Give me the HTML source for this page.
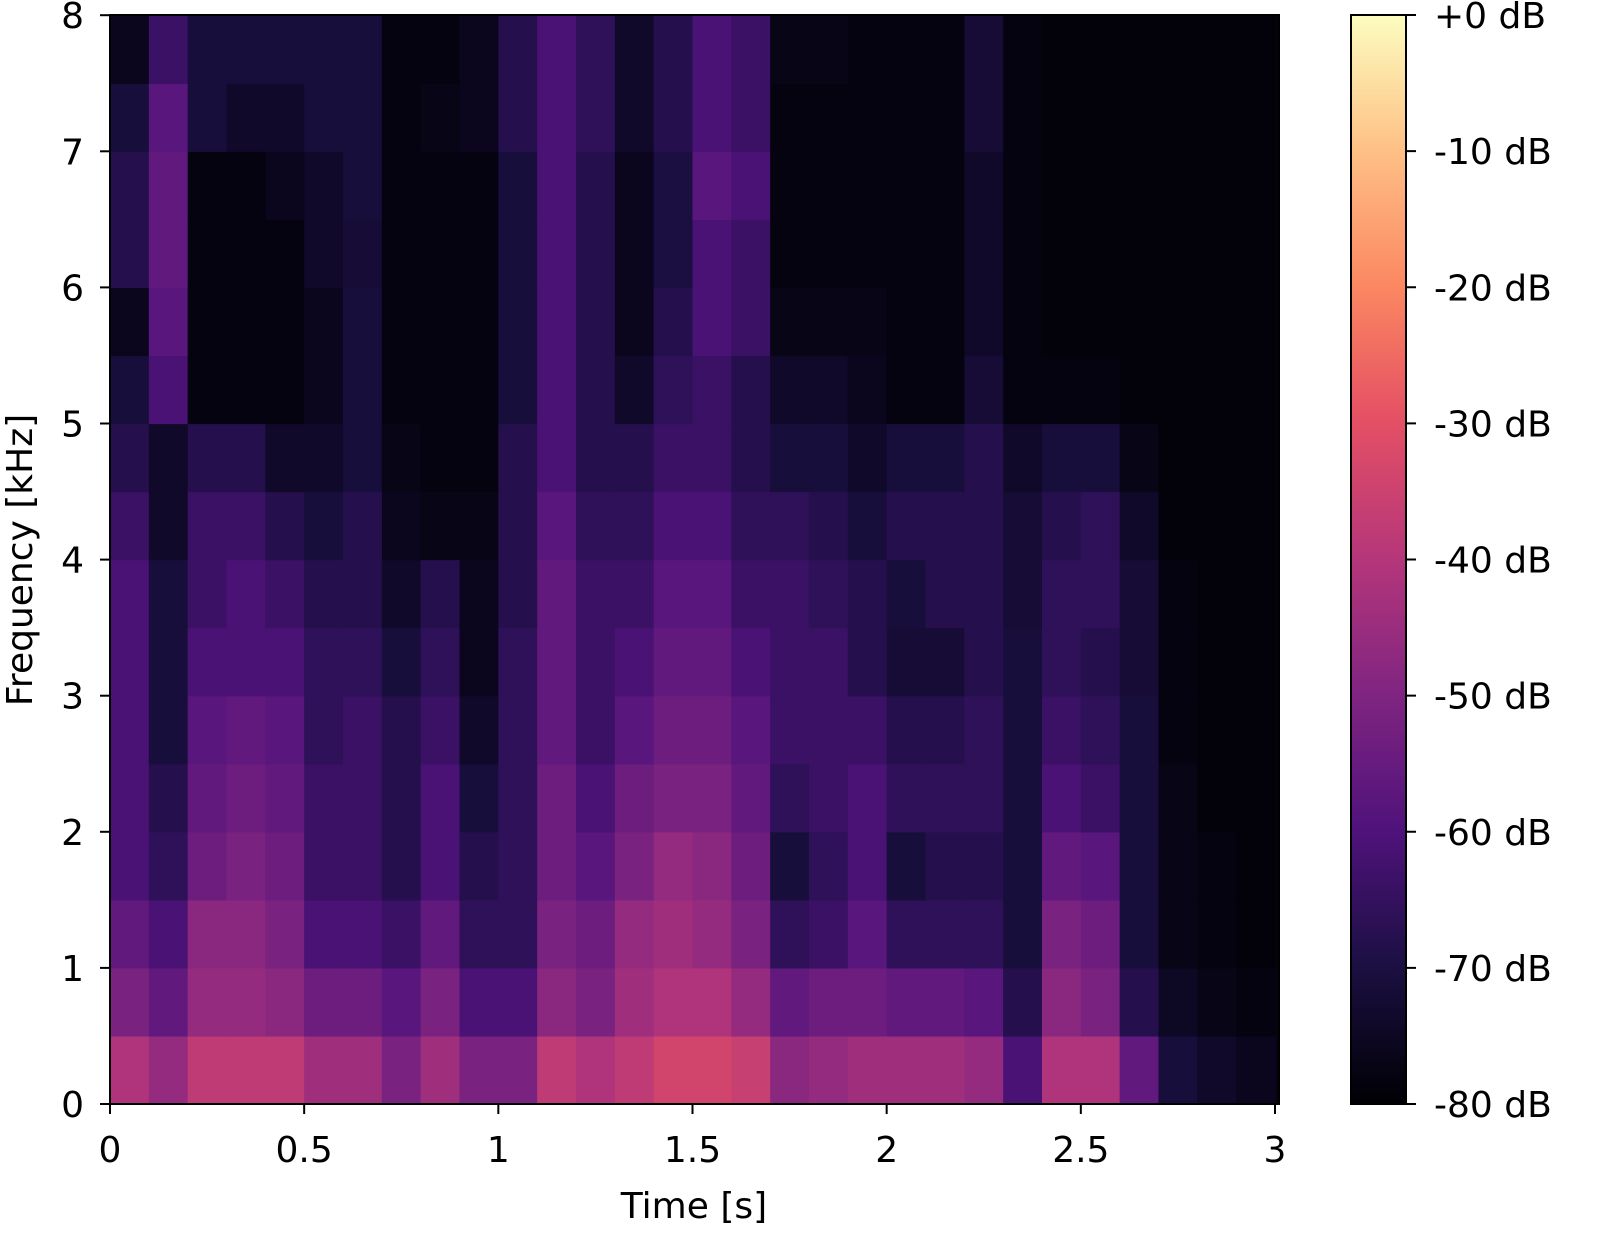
<!DOCTYPE html>
<html><head><meta charset="utf-8"><style>
html,body{margin:0;padding:0;background:#fff;}
svg text{font-family:"DejaVu Sans","Liberation Sans",sans-serif;fill:#000;}
</style></head><body>
<svg id="chart" width="1598" height="1250" viewBox="0 0 1598 1250" xmlns="http://www.w3.org/2000/svg">
<defs>
<linearGradient id="magma" x1="0" y1="1" x2="0" y2="0">
<stop offset="0" stop-color="#000004"/><stop offset="0.13" stop-color="#1c1044"/>
<stop offset="0.25" stop-color="#4f127b"/><stop offset="0.38" stop-color="#812581"/>
<stop offset="0.5" stop-color="#b5367a"/><stop offset="0.63" stop-color="#e55064"/>
<stop offset="0.75" stop-color="#fb8761"/><stop offset="0.88" stop-color="#fec287"/>
<stop offset="1" stop-color="#fcfdbf"/>
</linearGradient>
</defs>
<rect x="110" y="15" width="1169" height="1089" fill="#06050f"/>
<g id="cells"></g>
<rect x="110" y="15" width="1169" height="1089" fill="none" stroke="#000" stroke-width="2"/>
<g id="xaxis"></g>
<g id="yaxis"></g>
<text x="694" y="1218" font-size="36" text-anchor="middle">Time [s]</text>
<text transform="translate(32,560) rotate(-90)" font-size="36" text-anchor="middle">Frequency [kHz]</text>
<rect x="1351" y="15" width="55" height="1089" fill="url(#magma)" stroke="#000" stroke-width="2"/>
<g id="cbaxis"></g>
</svg>
<script>
const timeTicks = [0, 0.5, 1, 1.5, 2, 2.5, 3];
const timeTickLabels = ["0", "0.5", "1", "1.5", "2", "2.5", "3"];
const freqTicks = [0, 1, 2, 3, 4, 5, 6, 7, 8];
const freqTickLabels = ["0", "1", "2", "3", "4", "5", "6", "7", "8"];
const dbTicks = [0, -10, -20, -30, -40, -50, -60, -70, -80];
const dbTickLabels = ["+0 dB", "-10 dB", "-20 dB", "-30 dB", "-40 dB", "-50 dB", "-60 dB", "-70 dB", "-80 dB"];
const timeBins = [0,0.1,0.2,0.3,0.4,0.5,0.6,0.7,0.8,0.9,1.0,1.1,1.2,1.3,1.4,1.5,1.6,1.7,1.8,1.9,2.0,2.1,2.2,2.3,2.4,2.5,2.6,2.7,2.8,2.9];
const freqBins = [0,0.5,1,1.5,2,2.5,3,3.5,4,4.5,5,5.5,6,6.5,7,7.5];
const levels = [
[-41,-51,-56,-61,-61,-61,-61,-61,-64,-68,-71,-76,-68,-68,-71,-76],
[-46,-56,-61,-66,-68,-71,-71,-71,-74,-74,-61,-58,-56,-56,-58,-64],
[-38,-46,-48,-54,-56,-58,-61,-64,-64,-68,-78,-78,-78,-78,-71,-71],
[-38,-46,-48,-51,-54,-56,-61,-61,-64,-68,-78,-78,-78,-78,-74,-71],
[-38,-48,-51,-54,-56,-58,-61,-64,-68,-74,-78,-78,-78,-76,-74,-71],
[-44,-54,-61,-64,-64,-66,-66,-68,-71,-74,-76,-76,-74,-74,-71,-71],
[-44,-54,-61,-64,-64,-64,-66,-68,-68,-71,-71,-71,-72,-71,-71,-71],
[-51,-58,-64,-68,-68,-68,-71,-74,-76,-77,-78,-78,-78,-78,-78,-78],
[-44,-51,-56,-61,-61,-64,-66,-68,-77,-78,-78,-78,-78,-78,-77,-78],
[-51,-61,-66,-68,-71,-74,-76,-76,-77,-78,-78,-78,-78,-78,-76,-76],
[-51,-61,-66,-66,-66,-66,-66,-68,-68,-68,-71,-71,-71,-71,-68,-68],
[-38,-48,-51,-54,-54,-56,-56,-56,-58,-61,-61,-61,-61,-61,-61,-61],
[-41,-51,-54,-58,-61,-64,-64,-64,-66,-68,-68,-68,-68,-68,-66,-66],
[-38,-44,-46,-51,-54,-58,-61,-64,-66,-68,-74,-76,-76,-76,-74,-74],
[-34,-41,-44,-46,-51,-54,-56,-58,-61,-64,-66,-68,-70,-70,-68,-68],
[-34,-41,-46,-48,-51,-54,-56,-58,-61,-64,-64,-61,-61,-58,-61,-61],
[-36,-46,-51,-54,-56,-58,-61,-64,-66,-68,-68,-64,-64,-61,-64,-64],
[-48,-56,-66,-71,-66,-64,-64,-64,-66,-71,-74,-77,-78,-78,-78,-77],
[-46,-54,-64,-66,-64,-64,-64,-66,-68,-71,-74,-77,-78,-78,-78,-77],
[-44,-54,-58,-61,-61,-64,-68,-68,-71,-74,-76,-77,-78,-78,-78,-78],
[-44,-56,-66,-71,-66,-68,-72,-71,-68,-71,-78,-78,-78,-78,-78,-78],
[-44,-56,-66,-68,-66,-68,-72,-68,-68,-71,-78,-78,-78,-78,-78,-78],
[-46,-58,-66,-68,-66,-66,-68,-68,-68,-68,-72,-74,-74,-74,-72,-72],
[-61,-68,-71,-71,-71,-71,-71,-72,-72,-74,-78,-78,-78,-78,-78,-78],
[-41,-48,-51,-56,-61,-64,-66,-66,-68,-71,-78,-79,-79,-79,-79,-79],
[-41,-51,-54,-58,-64,-66,-68,-66,-66,-71,-78,-79,-79,-79,-79,-79],
[-56,-68,-71,-71,-71,-71,-72,-72,-74,-77,-79,-79,-79,-79,-79,-79],
[-71,-75,-77,-77,-77,-78,-78,-78,-79,-79,-79,-79,-79,-79,-79,-79],
[-74,-77,-78,-78,-79,-79,-79,-79,-79,-79,-79,-79,-79,-79,-79,-79],
[-76,-78,-79,-79,-79,-79,-79,-79,-79,-79,-79,-79,-79,-79,-79,-79]
];
const timeStep = 0.1, freqStep = 0.5;
const NS = "http://www.w3.org/2000/svg";
const xScale = t => 110 + t * 388.33;
const yScale = f => 1104 - f * 136.1;
const dbScale = d => 15 + (-d / 80) * 1089;
const magma = [[0,0,0,4],[0.13,28,16,68],[0.25,79,18,123],[0.38,129,37,129],[0.5,181,54,122],[0.63,229,80,100],[0.75,251,135,97],[0.88,254,194,135],[1,252,253,191]];
function color(db){
  let v = Math.max(0, Math.min(1, (db + 80) / 80));
  for (let i = 1; i < magma.length; i++) {
    if (v <= magma[i][0]) {
      const a = magma[i-1], b = magma[i], k = (v - a[0]) / (b[0] - a[0]);
      return `rgb(${Math.round(a[1]+k*(b[1]-a[1]))},${Math.round(a[2]+k*(b[2]-a[2]))},${Math.round(a[3]+k*(b[3]-a[3]))})`;
    }
  }
  return "rgb(252,253,191)";
}
function mk(tag, attrs, parent){
  const el = document.createElementNS(NS, tag);
  for (const k in attrs) el.setAttribute(k, attrs[k]);
  parent.appendChild(el);
  return el;
}
const cells = document.getElementById('cells');
timeBins.forEach((t, i) => {
  freqBins.forEach((f, j) => {
    const x0 = xScale(t), x1 = xScale(t + timeStep), y0 = yScale(f + freqStep), y1 = yScale(f);
    const r = mk('rect', {x: x0, y: y0, width: x1 - x0 + 0.6, height: y1 - y0 + 0.6, fill: color(levels[i][j])}, cells);
    
    
  });
});
const xaxis = document.getElementById('xaxis');
timeTicks.forEach((t, i) => {
  const x = xScale(t);
  const l = mk('line', {x1: x, x2: x, y1: 1104, y2: 1114, stroke: '#000', 'stroke-width': 2}, xaxis);
  
  
  const tx = mk('text', {x: x, y: 1162, 'font-size': 36, 'text-anchor': 'middle'}, xaxis);
  tx.textContent = timeTickLabels[i];
  
  
});
const yaxis = document.getElementById('yaxis');
freqTicks.forEach((f, i) => {
  const y = yScale(f);
  const l = mk('line', {x1: 100, x2: 110, y1: y, y2: y, stroke: '#000', 'stroke-width': 2}, yaxis);
  
  
  const tx = mk('text', {x: 84, y: y + 13, 'font-size': 36, 'text-anchor': 'end'}, yaxis);
  tx.textContent = freqTickLabels[i];
  
  
});
const cb = document.getElementById('cbaxis');
dbTicks.forEach((d, i) => {
  const y = dbScale(d);
  const l = mk('line', {x1: 1406, x2: 1416, y1: y, y2: y, stroke: '#000', 'stroke-width': 2}, cb);
  
  
  const tx = mk('text', {x: 1434, y: y + 13, 'font-size': 36}, cb);
  tx.textContent = dbTickLabels[i];
  
  
});
</script>
</body></html>
